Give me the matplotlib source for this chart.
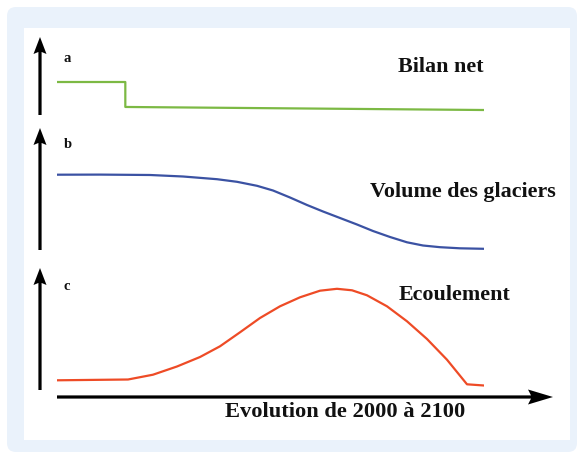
import matplotlib
matplotlib.use("Agg")
import matplotlib.pyplot as plt
from matplotlib.patches import FancyBboxPatch, Rectangle, FancyArrow

# --- data (relative index, 0-100, per panel) ---
years_bilan = [2000, 2016, 2016, 2100]
bilan_net = [42.3, 42.3, 10.3, 6.4]

years_volume = [2000, 2010.07, 2021.78, 2029.51, 2037.47, 2042.15, 2046.84, 2050.59,
                2054.57, 2058.55, 2062.30, 2066.28, 2070.26, 2074.00, 2077.99,
                2081.97, 2085.71, 2089.70, 2094.38, 2100]
volume_glaciers = [61.72, 61.80, 61.48, 60.25, 58.03, 55.90, 52.62, 48.77,
                   43.03, 36.89, 31.56, 26.23, 20.90, 15.57, 10.66,
                   6.31, 3.69, 2.30, 1.39, 0.98]

years_ecoul = [2000, 2016.63, 2022.48, 2028.10, 2033.49, 2038.17, 2042.86, 2047.54,
               2052.22, 2056.91, 2061.59, 2065.57, 2069.09, 2072.60, 2077.28,
               2081.97, 2086.65, 2091.33, 2096.02, 2100]
ecoulement = [6.42, 7.08, 11.08, 17.92, 25.83, 34.75, 46.42, 58.33,
              68.08, 75.58, 81.08, 82.67, 81.42, 77.25, 68.08,
              55.58, 40.83, 23.58, 3.08, 2.08]

panel_labels = ["a", "b", "c"]
panel_titles = ["Bilan net", "Volume des glaciers", "Ecoulement"]
xlabel = "Evolution de 2000 à 2100"

W, H = 581, 455
fig = plt.figure(figsize=(W / 100, H / 100), dpi=100)
fig.patch.set_facecolor("white")

# overlay in pixel coordinates for the frame, arrows and text
ov = fig.add_axes([0, 0, 1, 1], zorder=0)
ov.set_xlim(0, W)
ov.set_ylim(H, 0)
ov.axis("off")

ov.add_patch(FancyBboxPatch((7, 7), 570, 445, boxstyle="round,pad=0,rounding_size=9",
                            fc="#eaf2fb", ec="none"))
ov.add_patch(Rectangle((24, 28), 546, 412, fc="white", ec="none"))

serif = ["Liberation Serif", "DejaVu Serif"]


def px_axes(left, right, top, bottom):
    return fig.add_axes([left / W, (H - bottom) / H, (right - left) / W, (bottom - top) / H],
                        zorder=2)


panels = [
    (37, 115, years_bilan, bilan_net, "#7cb944"),
    (128, 250, years_volume, volume_glaciers, "#3b52a3"),
    (268, 388, years_ecoul, ecoulement, "#ee4b26"),
]

for (top, bottom, xs, ys, col) in panels:
    ax = px_axes(57, 484, top, bottom)
    ax.plot(xs, ys, color=col, lw=1.6, solid_joinstyle="round")
    ax.set_xlim(2000, 2100)
    ax.set_ylim(0, 100)
    ax.axis("off")
    ax.patch.set_alpha(0)

# vertical axis arrows
arrow_kw = dict(width=3.2, head_width=13, head_length=17, length_includes_head=True,
                fc="black", ec="none", overhang=0.12)
for top, bottom in [(37, 115), (128, 250), (268, 390)]:
    ov.add_patch(FancyArrow(40, bottom, 0, top - bottom, **arrow_kw))

# horizontal time arrow
ov.add_patch(FancyArrow(57, 397, 496, 0, width=3.2, head_width=15, head_length=25,
                        length_includes_head=True, fc="black", ec="none", overhang=0.12))

# panel letters
for lab, y in zip(panel_labels, [58, 145, 286]):
    ov.text(64, y, lab, family=serif, fontweight="bold", fontsize=10.5,
            ha="left", va="center", color="#111111")

# panel titles
for t, (x, y) in zip(panel_titles, [(441, 67), (463, 192), (454, 295)]):
    ov.text(x, y, t, family=serif, fontweight="bold", fontsize=15.8,
            ha="center", va="center", color="#111111")

ov.text(345, 412, xlabel, family=serif, fontweight="bold", fontsize=16.2,
        ha="center", va="center", color="#111111")

fig.savefig("out.png", dpi=100)
